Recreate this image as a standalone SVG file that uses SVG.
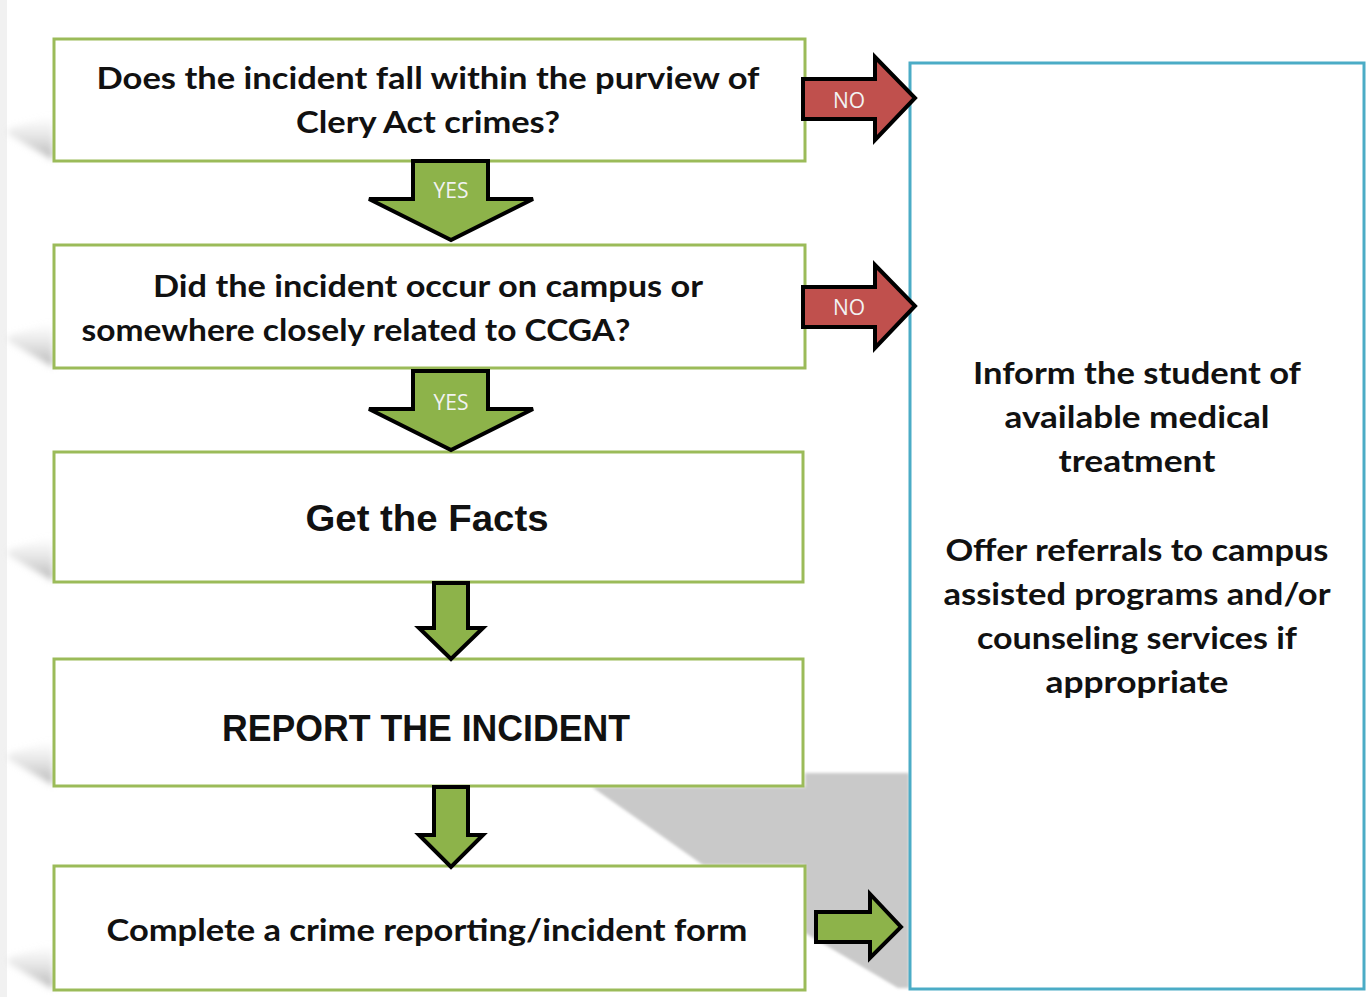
<svg xmlns="http://www.w3.org/2000/svg" xmlns:xlink="http://www.w3.org/1999/xlink" width="1368" height="997" viewBox="0 0 1368 997">
  <defs>
    <style>
      .box { fill: #ffffff; stroke: #9bbb59; stroke-width: 3; }
      .side { fill: #ffffff; stroke: #4bacc6; stroke-width: 3; }
      .txt { font-family: Lato, "Open Sans", "Liberation Sans", sans-serif; font-weight: bold; font-size: 30px; fill: #111111; text-anchor: middle; }
      .big { font-family: "Liberation Sans", Arial, sans-serif; font-weight: bold; font-size: 36px; fill: #111111; text-anchor: middle; }
      .no { fill: #c0504d; stroke: #000000; stroke-width: 4; stroke-linejoin: miter; }
      .go { fill: #8db34a; stroke: #000000; stroke-width: 4; stroke-linejoin: miter; }
      .lbl { font-family: "Open Sans", "Liberation Sans", sans-serif; font-size: 21px; fill: #f2f2f2; text-anchor: middle; }
    </style>
    <filter id="blur" x="-20%" y="-20%" width="140%" height="140%">
      <feGaussianBlur stdDeviation="3"/>
    </filter>
    <filter id="blur2" x="-10%" y="-10%" width="120%" height="120%">
      <feGaussianBlur stdDeviation="1.5"/>
    </filter>
    <linearGradient id="sg" x1="0" y1="0" x2="0" y2="1">
      <stop offset="0" stop-color="#d8d8d8" stop-opacity="0"/>
      <stop offset="1" stop-color="#b5b5b5"/>
    </linearGradient>
    <path id="lshadow" d="M53,-46 L8,-32 L8,-27 L53,-1 Z" fill="url(#sg)" filter="url(#blur)"/>
  </defs>

  <rect x="0" y="0" width="1368" height="997" fill="#ffffff"/>
  <rect x="0" y="0" width="7" height="997" fill="#f1f1f1"/>

  <g id="shadows">
    <use xlink:href="#lshadow" transform="translate(0,161)"/>
    <use xlink:href="#lshadow" transform="translate(0,368)"/>
    <use xlink:href="#lshadow" transform="translate(0,582)"/>
    <use xlink:href="#lshadow" transform="translate(0,786)"/>
    <use xlink:href="#lshadow" transform="translate(0,990)"/>
    <polygon points="592,787 805,787 805,773 909,773 909,988 898,988 805,933 805,865 703,865" fill="#c9c9c9" filter="url(#blur2)"/>
  </g>

  <g id="node-clery">
    <rect class="box" x="54" y="39" width="751" height="122"/>
    <text class="txt" x="428" y="89" textLength="663" lengthAdjust="spacingAndGlyphs">Does the incident fall within the purview of</text>
    <text class="txt" x="428" y="133" textLength="264" lengthAdjust="spacingAndGlyphs">Clery Act crimes?</text>
  </g>

  <g id="node-campus">
    <rect class="box" x="54" y="245" width="751" height="123"/>
    <text class="txt" x="428" y="297" textLength="550" lengthAdjust="spacingAndGlyphs">Did the incident occur on campus or</text>
    <text class="txt" x="356" y="341" textLength="549" lengthAdjust="spacingAndGlyphs">somewhere closely related to CCGA?</text>
  </g>

  <g id="node-facts">
    <rect class="box" x="54" y="452" width="749" height="130"/>
    <text class="big" x="427" y="531" textLength="243" lengthAdjust="spacingAndGlyphs">Get the Facts</text>
  </g>

  <g id="node-report">
    <rect class="box" x="54" y="659" width="749" height="127"/>
    <text class="big" x="426" y="741" textLength="408" lengthAdjust="spacingAndGlyphs">REPORT THE INCIDENT</text>
  </g>

  <g id="node-form">
    <rect class="box" x="54" y="866" width="751" height="124"/>
    <text class="txt" x="427" y="941" textLength="641" lengthAdjust="spacingAndGlyphs">Complete a crime reporting/incident form</text>
  </g>

  <g id="node-inform">
    <rect class="side" x="910" y="63" width="454" height="926"/>
    <text class="txt" x="1137" y="384" textLength="328" lengthAdjust="spacingAndGlyphs">Inform the student of</text>
    <text class="txt" x="1137" y="428" textLength="265" lengthAdjust="spacingAndGlyphs">available medical</text>
    <text class="txt" x="1137" y="472" textLength="157" lengthAdjust="spacingAndGlyphs">treatment</text>
    <text class="txt" x="1137" y="561" textLength="383" lengthAdjust="spacingAndGlyphs">Offer referrals to campus</text>
    <text class="txt" x="1137" y="605" textLength="387" lengthAdjust="spacingAndGlyphs">assisted programs and/or</text>
    <text class="txt" x="1137" y="649" textLength="320" lengthAdjust="spacingAndGlyphs">counseling services if</text>
    <text class="txt" x="1137" y="693" textLength="183" lengthAdjust="spacingAndGlyphs">appropriate</text>
  </g>

  <g id="connectors">
    <g id="no-1">
      <polygon class="no" points="803,79 875,79 875,57 915,98 875,140 875,119 803,119"/>
      <text class="lbl" x="849" y="108">NO</text>
    </g>
    <g id="no-2">
      <polygon class="no" points="803,287 875,287 875,265 915,306 875,348 875,327 803,327"/>
      <text class="lbl" x="849" y="315">NO</text>
    </g>
    <g id="yes-1">
      <polygon class="go" points="413,161 488,161 488,199 533,199 451,240 369,199 413,199"/>
      <text class="lbl" x="451" y="198">YES</text>
    </g>
    <g id="yes-2">
      <polygon class="go" points="413,371 488,371 488,409 533,409 451,450 369,409 413,409"/>
      <text class="lbl" x="451" y="410">YES</text>
    </g>
    <g id="down-3">
      <polygon class="go" points="434,583 468,583 468,628 483,628 451,659 419,628 434,628"/>
    </g>
    <g id="down-4">
      <polygon class="go" points="434,787 468,787 468,835 483,835 451,867 419,835 434,835"/>
    </g>
    <g id="right-5">
      <polygon class="go" points="816,912 870,912 870,894 901,927 870,958 870,942 816,942"/>
    </g>
  </g>
</svg>
